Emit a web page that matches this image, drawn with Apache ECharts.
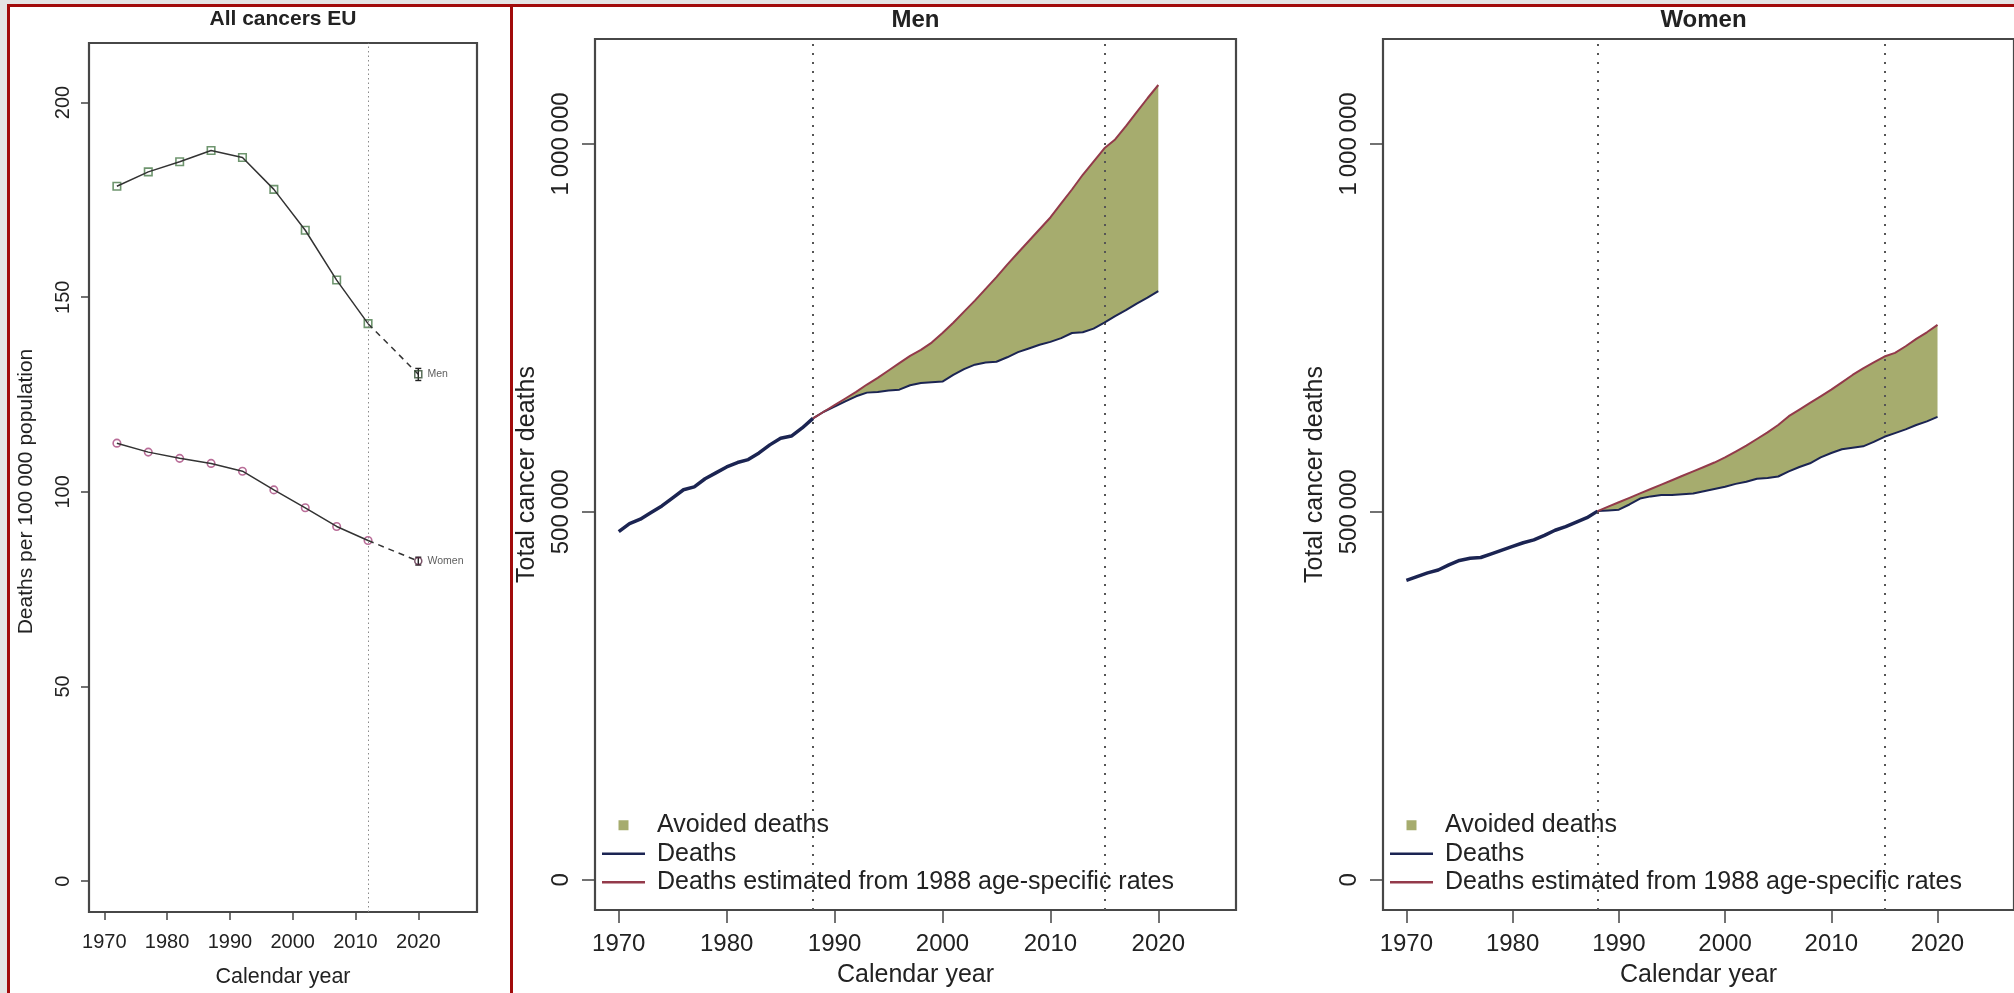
<!DOCTYPE html>
<html>
<head>
<meta charset="utf-8">
<title>Cancer deaths EU</title>
<script src="https://cdn.jsdelivr.net/npm/echarts@6/dist/echarts.min.js"></script>
<style>
html,body{margin:0;padding:0;background:#e4e4e4;overflow:hidden;}
.panel{position:absolute;box-sizing:border-box;border:3px solid #a10b0b;background:#fff;}
#p1{left:7px;top:4px;width:506px;height:992px;}
#p2{left:510px;top:4px;width:1510px;height:992px;}
#main{position:absolute;left:0;top:0;width:2014px;height:993px;}
</style>
</head>
<body>
<div class="panel" id="p1"></div>
<div class="panel" id="p2"></div>
<div id="main"></div>
<script>
// left panel: rates per 100 000, 5-year means
var rateYears = [1972, 1977, 1982, 1987, 1992, 1997, 2002, 2007, 2012];
var menRates = [178.5, 182.2, 184.8, 187.7, 185.9, 177.7, 167.2, 154.4, 143.2];
var womenRates = [112.5, 110.2, 108.6, 107.3, 105.3, 100.5, 95.9, 91.1, 87.5];
var predYear = 2020;
var menPred = [130.2, 128.6, 131.7];    // value, low, high
var womenPred = [82.2, 81.2, 83.2];

// right panels: total deaths per year
var years = [1970,1971,1972,1973,1974,1975,1976,1977,1978,1979,
             1980,1981,1982,1983,1984,1985,1986,1987,1988,1989,
             1990,1991,1992,1993,1994,1995,1996,1997,1998,1999,
             2000,2001,2002,2003,2004,2005,2006,2007,2008,2009,
             2010,2011,2012,2013,2014,2015,2016,2017,2018,2019,2020];
var menDeaths = [473000,484000,490000,499000,508000,519000,530000,534000,545000,553000,
                 561000,567000,571000,580000,591000,600000,603000,614000,627000,636000,
                 643000,650000,657000,662000,663000,665000,666000,672000,675000,676000,
                 677000,686000,694000,700000,703000,704000,710000,717000,722000,727000,
                 731000,736000,743000,744000,749000,757000,766000,774000,783000,791000,800000];
var womenDeaths = [407000,412000,417000,421000,428000,434000,437000,438000,443000,448000,
                   453000,458000,462000,468000,475000,480000,486000,492000,501000,502000,
                   503000,510000,518000,521000,523000,523000,524000,525000,528000,531000,
                   534000,538000,541000,545000,546000,548000,555000,561000,566000,574000,
                   580000,585000,587000,589000,595000,602000,607000,612000,618000,623000,629000];
var estYears = years.slice(18);   // 1988..2020
var menEst = [627000,636000,
              645000,654000,663000,673000,682000,692000,702000,712000,720000,730000,
              743000,757000,772000,787000,803000,819000,836000,852000,868000,884000,
              900000,919000,938000,958000,976000,994000,1006000,1024000,1043000,1062000,1080000];
var womenEst = [501000,507000,
                513000,519000,525000,531000,537000,543000,549000,555000,561000,567000,
                574000,582000,590000,599000,608000,618000,630000,639000,648000,657000,
                666000,676000,686000,695000,703000,711000,716000,725000,735000,744000,754000];

var xTicks = [1970, 1980, 1990, 2000, 2010, 2020];
var rateTicks = [0, 50, 100, 150, 200];
var countTicks = [0, 500000, 1000000];
var refYearLeft = 2012;
var refYearsRight = [1988, 2015];

var FONT = "'Liberation Sans', Arial, Helvetica, sans-serif";
var GREEN = '#a6ac6e', NAVY = '#1b2452', RED = '#933a4a';
var TXT = '#222';

function pairs(xs, ys) {
	return xs.map(function (x, i) { return [x, ys[i]]; });
}
function plain(v) { return String(v); }
function spaced(v) {
	return String(v).replace(/\B(?=(\d{3})+(?!\d))/g, '\u2009');
}

// the avoided-deaths band: one polygon between the two curves
function band(params, api) {
	if (params.dataIndexInside !== 0) return null;
	var n = params.dataInsideLength, top = [], bot = [];
	for (var i = 0; i < n; i++) {
		var x = api.value(0, i);
		bot.push(api.coord([x, api.value(1, i)]));
		top.push(api.coord([x, api.value(2, i)]));
	}
	return {type: 'polygon', shape: {points: bot.concat(top.reverse())}, style: {fill: GREEN}};
}

function errBar(params, api) {
	var x = api.value(0);
	var p1 = api.coord([x, api.value(1)]);
	var p2 = api.coord([x, api.value(2)]);
	var st = {stroke: '#222', lineWidth: 1.4};
	return {type: 'group', children: [
		{type: 'line', shape: {x1: p1[0], y1: p1[1], x2: p2[0], y2: p2[1]}, style: st},
		{type: 'line', shape: {x1: p1[0] - 3, y1: p1[1], x2: p1[0] + 3, y2: p1[1]}, style: st},
		{type: 'line', shape: {x1: p2[0] - 3, y1: p2[1], x2: p2[0] + 3, y2: p2[1]}, style: st}
	]};
}

function xAxisFor(g, min, max, fs, nfs, tl, margin, gap) {
	return {
		gridIndex: g, type: 'value', min: min, max: max,
		axisLine: {show: false, onZero: false}, splitLine: {show: false},
		axisTick: {show: true, length: tl, customValues: xTicks, lineStyle: {color: '#444', width: 1.5}},
		axisLabel: {customValues: xTicks, formatter: plain, fontSize: fs, color: TXT, fontFamily: FONT, margin: margin},
		name: 'Calendar year', nameLocation: 'middle', nameGap: gap,
		nameTextStyle: {fontSize: nfs, color: TXT, fontFamily: FONT}
	};
}

function yAxisFor(g, min, max, ticks, fmt, fs, nfs, tl, margin, name, gap, namePad) {
	return {
		gridIndex: g, type: 'value', min: min, max: max,
		axisLine: {show: false, onZero: false}, splitLine: {show: false},
		axisTick: {show: true, length: tl, customValues: ticks, lineStyle: {color: '#444', width: 1.5}},
		axisLabel: {customValues: ticks, formatter: fmt, rotate: 90, fontSize: fs, color: TXT, fontFamily: FONT, margin: margin},
		name: name, nameLocation: 'middle', nameGap: gap,
		nameTextStyle: {fontSize: nfs, color: TXT, fontFamily: FONT, padding: namePad}
	};
}

function rightSeries(g, deaths, est) {
	var d88 = deaths.slice(18);
	var ax = {xAxisIndex: g, yAxisIndex: g};
	return [
		Object.assign({type: 'custom', name: 'Avoided deaths', renderItem: band,
			data: estYears.map(function (y, i) { return [y, d88[i], est[i]]; }),
			encode: {x: 0, y: [1, 2]}, itemStyle: {color: GREEN}, silent: true}, ax),
		Object.assign({type: 'line', name: 'Deaths', data: pairs(years.slice(0, 19), deaths.slice(0, 19)),
			symbol: 'none', itemStyle: {color: NAVY}, lineStyle: {color: NAVY, width: 3.5}}, ax),
		Object.assign({type: 'line', name: 'Deaths', data: pairs(estYears, d88),
			symbol: 'none', itemStyle: {color: NAVY}, lineStyle: {color: NAVY, width: 2}}, ax),
		Object.assign({type: 'line', name: 'Deaths estimated from 1988 age-specific rates', data: pairs(estYears, est),
			symbol: 'none', itemStyle: {color: RED}, lineStyle: {color: RED, width: 2},
			markLine: {silent: true, symbol: ['none', 'none'], label: {show: false},
				lineStyle: {color: '#555', width: 2, type: [2, 7]},
				data: refYearsRight.map(function (y) { return {xAxis: y}; })}}, ax)
	];
}

function legendFor(left) {
	return {
		left: left, top: 811, orient: 'vertical', padding: 0, itemGap: 0,
		itemWidth: 43, itemHeight: 10, selectedMode: false,
		textStyle: {fontSize: 25, color: TXT, fontFamily: FONT, lineHeight: 28.5, padding: [0, 0, 0, 7]},
		data: [
			{name: 'Avoided deaths', icon: 'path://M0,0H10V10H0Z', itemStyle: {color: GREEN}},
			{name: 'Deaths', icon: 'path://M0,0H43V2.5H0Z', itemStyle: {color: NAVY}},
			{name: 'Deaths estimated from 1988 age-specific rates', icon: 'path://M0,0H43V2.5H0Z', itemStyle: {color: RED}}
		]
	};
}

var lineGray = {color: '#333', width: 1.5};
var leftSeries = [
	{type: 'line', data: pairs(rateYears, menRates), symbol: 'none', lineStyle: lineGray,
		markLine: {silent: true, symbol: ['none', 'none'], label: {show: false},
			lineStyle: {color: '#8a8a8a', width: 1, type: [1.5, 3]}, data: [{xAxis: refYearLeft}]}},
	{type: 'line', data: [[rateYears[8], menRates[8]], [predYear, menPred[0]]], symbol: 'none',
		lineStyle: {color: '#333', width: 1.5, type: [6, 5]}},
	{type: 'line', data: pairs(rateYears, womenRates), symbol: 'none', lineStyle: lineGray},
	{type: 'line', data: [[rateYears[8], womenRates[8]], [predYear, womenPred[0]]], symbol: 'none',
		lineStyle: {color: '#333', width: 1.5, type: [6, 5]}},
	// white gaps round the points, as in an R type="b" plot
	{type: 'scatter', data: pairs(rateYears, menRates).concat([[predYear, menPred[0]]]), symbol: 'rect',
		symbolSize: 15, itemStyle: {color: '#fff'}, silent: true},
	{type: 'scatter', data: pairs(rateYears, womenRates).concat([[predYear, womenPred[0]]]), symbol: 'circle',
		symbolSize: 15, itemStyle: {color: '#fff'}, silent: true},
	{type: 'scatter', data: pairs(rateYears, menRates), symbol: 'rect', symbolSize: 7.5,
		itemStyle: {color: '#fff', borderColor: '#4a7a4a', borderWidth: 1.6}},
	{type: 'scatter', data: pairs(rateYears, womenRates), symbol: 'circle', symbolSize: 7.5,
		itemStyle: {color: '#fff', borderColor: '#a8487e', borderWidth: 1.6}},
	{type: 'custom', renderItem: errBar, data: [[predYear, menPred[1], menPred[2]], [predYear, womenPred[1], womenPred[2]]],
		encode: {x: 0, y: [1, 2]}, z: 5},
	{type: 'scatter', data: [[predYear, menPred[0]]], symbol: 'rect', symbolSize: 7, z: 6,
		itemStyle: {color: 'rgba(255,255,255,0)', borderColor: '#2f4a2f', borderWidth: 1.5},
		label: {show: true, position: 'right', distance: 5, formatter: 'Men', fontSize: 10.5, color: '#333', fontFamily: FONT}},
	{type: 'scatter', data: [[predYear, womenPred[0]]], symbol: 'circle', symbolSize: 7, z: 6,
		itemStyle: {color: 'rgba(255,255,255,0)', borderColor: '#5a2a45', borderWidth: 1.5},
		label: {show: true, position: 'right', distance: 5, formatter: 'Women', fontSize: 10.5, color: '#333', fontFamily: FONT}}
];
leftSeries.forEach(function (s) { s.xAxisIndex = 0; s.yAxisIndex = 0; });

var gridStyle = {show: true, borderColor: '#474747', borderWidth: 2.2, backgroundColor: 'transparent'};
var titleText = {color: TXT, fontFamily: FONT, fontWeight: 'bold'};

var myChart = echarts.init(document.getElementById('main'));
myChart.setOption({
	animation: false,
	backgroundColor: 'transparent',
	title: [
		{text: 'All cancers EU', left: 283, top: 9, textAlign: 'center', padding: 0,
			textStyle: Object.assign({fontSize: 21}, titleText)},
		{text: 'Men', left: 915.5, top: 8, textAlign: 'center', padding: 0,
			textStyle: Object.assign({fontSize: 24}, titleText)},
		{text: 'Women', left: 1703.5, top: 8, textAlign: 'center', padding: 0,
			textStyle: Object.assign({fontSize: 24}, titleText)}
	],
	legend: [legendFor(602), legendFor(1390)],
	grid: [
		Object.assign({left: 89, top: 43, width: 388, height: 872}, gridStyle),
		Object.assign({left: 595, top: 39, width: 641, height: 872}, gridStyle),
		Object.assign({left: 1383, top: 39, width: 641, height: 872}, gridStyle)
	],
	xAxis: [
		xAxisFor(0, 1967.56, 2029.35, 20, 21.5, 8, 20, 54),
		xAxisFor(1, 1967.8, 2027.2, 24, 25, 13, 22, 53),
		xAxisFor(2, 1967.8, 2027.2, 24, 25, 13, 22, 53)
	],
	yAxis: [
		yAxisFor(0, -7.94, 215.3, rateTicks, plain, 20, 21, 8, 16, 'Deaths per 100\u2009000 population', 52, [0, 28, 0, 0]),
		yAxisFor(1, -41000, 1142500, countTicks, spaced, 24, 25, 13, 22, 'Total cancer deaths', 55, 0),
		yAxisFor(2, -41000, 1142500, countTicks, spaced, 24, 25, 13, 22, 'Total cancer deaths', 55, 0)
	],
	series: leftSeries.concat(rightSeries(1, menDeaths, menEst), rightSeries(2, womenDeaths, womenEst))
});
</script>
</body>
</html>
